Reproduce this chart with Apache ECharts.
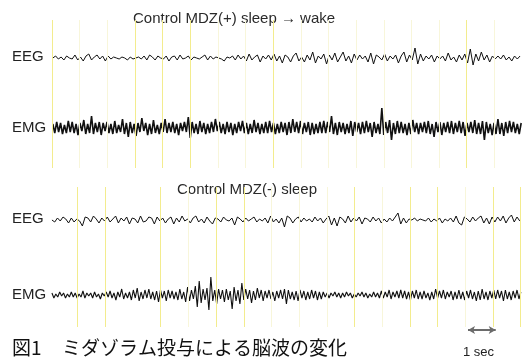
<!DOCTYPE html>
<html>
<head>
<meta charset="utf-8">
<script src="https://cdn.jsdelivr.net/npm/echarts@6/dist/echarts.min.js"></script>
<style>
  html, body { margin: 0; padding: 0; background: #fff; }
  #chart { width: 522px; height: 361px; }
</style>
</head>
<body>
<div id="chart"></div>
<script>
// trace labels and panel titles
const panelTitles = ['Control MDZ(+) sleep \u2192 wake', 'Control MDZ(-) sleep'];
const traceLabels = ['EEG', 'EMG'];
const caption = ['図1', 'ミダゾラム投与による脳波の変化'];
const scaleLabel = '1 sec';

// one-second markers (s)
const topSeconds = [0, 1, 2, 3, 4, 5, 6, 7, 8, 9, 10, 11, 12, 13, 14, 15, 16];
const bottomSeconds = [1, 2, 4, 5, 6, 7, 8, 9, 10, 11, 12, 13, 14, 15, 16, 17];
const topStrong = [0, 3, 4, 5, 8, 15];
const bottomStrong = [1, 2, 4, 6, 7, 11, 13, 14, 16, 17];

// sampled traces (arbitrary units), EEG every 0.1 s, EMG every 0.07 s
const eegStep = 0.1, emgStep = 0.07;

const topEEG = [
  0, 2, -1, 1, -2, 2, 0, -1, 3, -2,
  1, -3, 2, 4, -2, 1, 3, -1, 2, -3,
  2, -1, 1, 0, -1, 1, 0, -2, 1, -1,
  0, 1, -1, 2, -2, 3, 1, -2, 2, 0,
  -1, 2, -3, 1, 2, -2, 3, -1, 0, 2,
  -2, 1, 0, -1, 1, 3, -2, 2, -1, 1,
  0, -1, -3, 1, 0, 2, -2, 3, -1, 2,
  -3, 4, -2, 1, 3, -4, 2, -1, 3, -2,
  4, -3, 2, -5, 3, 1, -4, 2, 5, -3,
  1, -4, 3, -2, 6, -5, 2, -1, 4, -6,
  3, -2, 5, -4, 1, 6, -3, 2, -5, 4,
  -2, 3, -1, 2, -4, 5, -6, 3, 1, -2,
  4, -3, 2, -1, 3, -5, 2, 6, -4, 3,
  -2, 10, -6, 4, -3, 2, -1, 3, -4, 2,
  -1, 2, -3, 5, -2, 1, -4, 3, -2, 4,
  -5, 9, -7, 4, -3, 6, -2, 3, -4, 2,
  -1, 2, -1, 3, -2, 1, -3, 2, -1, 2
];

const topEMG = [
  4, -5, 6, -4, 5, -6, 3, -5, 7, -4,
  6, -5, 4, -7, 5, -3, 8, -6, 4, -5,
  12, -6, 5, -4, 6, -7, 5, -3, 6, -5,
  4, -6, 7, -5, 3, -4, 9, -6, 5, -9,
  6, -5, 4, -8, 5, -4, 10, -3, 5, -7,
  4, -6, 8, -5, 3, -6, 5, -4, 9, -5,
  5, -4, 6, -5, 4, -7, 5, -3, 6, -4,
  11, -10, 6, -5, 4, -6, 7, -4, 5, -6,
  4, -5, 6, -4, 9, -3, 6, -5, 4, -6,
  6, -4, 5, -7, 4, -5, 6, -3, 7, -5,
  5, -6, 4, -5, 8, -4, 5, -6, 4, -5,
  6, -5, 7, -4, 5, -6, 4, -5, 6, -4,
  5, -7, 6, -5, 9, -4, 6, -5, 7, -6,
  5, -4, 6, -7, 5, -6, 4, -5, 6, -5,
  7, -5, 6, -4, 12, -6, 5, -7, 6, -4,
  5, -6, 4, -5, 7, -8, 6, -4, 5, -6,
  6, -5, 7, -4, 5, -9, 6, -5, 4, -6,
  20, -7, 6, -5, 8, -12, 5, -6, 7, -5,
  6, -5, 4, -7, 5, -6, 8, -4, 5, -6,
  5, -4, 6, -5, 7, -6, 4, -9, 6, -4,
  6, -7, 5, -4, 6, -5, 7, -6, 5, -4,
  7, -5, 6, -8, 5, -4, 6, -5, 8, -6,
  5, -6, 7, -12, 6, -5, 4, -7, 5, -6,
  9, -6, 5, -8, 6, -5, 7, -4, 6, -5,
  4, -6, 5
];

const bottomEEG = [
  0, -2, 2, -1, 3, 1, -3, 2, -2, 1,
  -1, -6, 3, 2, -2, 4, 1, -3, 2, -1,
  3, -2, 1, 4, -3, 2, -1, 3, -4, 2,
  1, -3, 4, -2, -1, 3, 2, -4, 3, -1,
  2, -3, 1, 3, -4, 2, -2, 4, -1, 1,
  -3, 2, 4, -2, 1, -3, 3, -1, -4, 2,
  1, -2, 3, 0, -1, 2, -5, 3, 1, -2,
  2, -1, 1, 3, -2, 1, -1, 2, -3, 4,
  -2, 1, -3, 2, -7, 4, 2, -3, 1, 3,
  -2, 2, -1, 1, -2, 3, -1, 2, -3, 1,
  4, -5, 2, -6, 3, 1, -3, 4, -2, 2,
  -1, 3, -4, 2, 1, -2, 3, -1, 2, -3,
  1, -2, 2, -1, 3, 7, -4, 2, -3, 1,
  0, 2, -1, 1, 0, -1, 2, -2, 1, -1,
  2, -3, 1, -1, 2, -2, 4, -3, -5, 3,
  1, -2, 3, -1, 2, 4, -3, 2, -4, 3,
  -2, 3, -1, 4, -3, 2, 5, -2, 3, -1
];

const bottomEMG = [
  2, -3, 1, -2, 3, -1, 2, -3, 1, -2,
  3, -2, 2, -3, 1, -2, 4, -3, 2, -1,
  2, -3, 3, -2, 1, -4, 2, -1, 3, -2,
  4, -3, 2, -5, 3, -2, 6, -4, 2, -3,
  3, -5, 5, -3, 7, -6, 3, -4, 5, -3,
  6, -4, 3, -5, 4, -7, 5, -3, 4, -6,
  5, -3, 4, -4, 3, -5, 6, -4, 3, -7,
  8, -6, 5, -4, 9, -12, 14, -8, 6, -5,
  7, -15, 18, -6, 5, -9, 6, -4, 5, -7,
  6, -5, 4, -14, 8, -6, 5, -9, 12, -5,
  6, -4, 5, -8, 4, -5, 7, -3, 5, -6,
  4, -3, 5, -4, 3, -6, 4, -3, 5, -4,
  6, -9, 5, -4, 3, -5, 4, -6, 5, -3,
  4, -5, 3, -4, 5, -3, 4, -5, 3, -4,
  3, -2, 2, -3, 2, -1, 3, -2, 2, -3,
  2, -2, 3, -1, 2, -3, 1, -2, 2, -1,
  3, -2, 2, -3, 1, -2, 3, -2, 2, -3,
  4, -3, 3, -2, 5, -4, 3, -2, 4, -3,
  5, -3, 4, -4, 3, -5, 4, -3, 5, -4,
  3, -4, 4, -3, 2, -5, 3, -4, 6, -3,
  4, -3, 5, -4, 3, -2, 4, -5, 3, -4,
  5, -4, 3, -5, 4, -3, 5, -4, 3, -6,
  4, -5, 6, -4, 3, -5, 4, -3, 5, -4,
  5, -3, 4, -6, 5, -4, 3, -5, 4, -3,
  5, -4, 3
];

const chart = echarts.init(document.getElementById('chart'), null, { renderer: 'canvas' });

const FONT = '"Liberation Sans", Arial, sans-serif';
const STRONG = '#f3ec8e';
const FAINT = '#f8f6da';
const TRACE = '#111';

const toPairs = (arr, t0, step) => arr.map((v, i) => [t0 + i * step, v]);

const topPanel = { left: 52, width: 471, max: 17 };
const botPanel = { left: 50, width: 472, max: 17.05 };

const grids = [
  { left: topPanel.left, width: topPanel.width, top: 20, height: 148 },   // 0 top panel
  { left: topPanel.left, width: topPanel.width, top: 38, height: 40 },    // 1 top EEG
  { left: topPanel.left, width: topPanel.width, top: 108, height: 40 },   // 2 top EMG
  { left: botPanel.left, width: botPanel.width, top: 187, height: 140 },  // 3 bottom panel
  { left: botPanel.left, width: botPanel.width, top: 200, height: 40 },   // 4 bottom EEG
  { left: botPanel.left, width: botPanel.width, top: 275, height: 40 },   // 5 bottom EMG
  { left: botPanel.left, width: botPanel.width, top: 325, height: 10 }    // 6 scale bar
];

const isPanel = i => i === 0 || i === 3 || i === 6;

const xAxes = grids.map((g, i) => ({
  type: 'value', gridIndex: i, show: false, min: 0,
  max: i < 3 ? topPanel.max : botPanel.max
}));
const yAxes = grids.map((g, i) => ({
  type: 'value', gridIndex: i, show: false,
  min: isPanel(i) ? 0 : -20,
  max: isPanel(i) ? 1 : 20
}));

function markerSeries(gridIdx, seconds, strong) {
  return {
    type: 'line', xAxisIndex: gridIdx, yAxisIndex: gridIdx,
    data: [[seconds[0], 0.5]], symbol: 'none', lineStyle: { opacity: 0 },
    silent: true, z: 1,
    markLine: {
      silent: true, symbol: 'none', label: { show: false }, animation: false,
      data: seconds.map(s => ({
        xAxis: s,
        lineStyle: { color: strong.includes(s) ? STRONG : FAINT, width: 1, type: 'solid' }
      }))
    }
  };
}

function traceSeries(gridIdx, arr, t0, step, width) {
  return {
    type: 'line', xAxisIndex: gridIdx, yAxisIndex: gridIdx,
    data: toPairs(arr, t0, step), symbol: 'none', z: 3,
    lineStyle: { color: TRACE, width: width }
  };
}

const option = {
  animation: false,
  backgroundColor: '#fff',
  grid: grids,
  xAxis: xAxes,
  yAxis: yAxes,
  series: [
    markerSeries(0, topSeconds, topStrong),
    markerSeries(3, bottomSeconds, bottomStrong),
    traceSeries(1, topEEG, 0.03, eegStep, 1),
    traceSeries(2, topEMG, 0.03, emgStep, 1.6),
    traceSeries(4, bottomEEG, 0.07, eegStep, 1),
    traceSeries(5, bottomEMG, 0.07, emgStep, 1.1),
    {
      type: 'line', xAxisIndex: 6, yAxisIndex: 6,
      data: [[15.1, 0.5]], symbol: 'none', lineStyle: { opacity: 0 }, silent: true,
      markLine: {
        silent: true, animation: false, label: { show: false },
        symbol: ['arrow', 'arrow'], symbolSize: [6, 7],
        lineStyle: { color: '#6b6b6b', width: 2, type: 'solid' },
        data: [[{ coord: [15.1, 0.5] }, { coord: [16.1, 0.5] }]]
      }
    }
  ],
  graphic: [
    { type: 'text', left: 133, top: 11, style: { text: panelTitles[0], font: '15px ' + FONT, fill: '#2a2a2a' } },
    { type: 'text', left: 177, top: 182, style: { text: panelTitles[1], font: '15px ' + FONT, fill: '#2a2a2a' } },
    { type: 'text', left: 12, top: 49, style: { text: traceLabels[0], font: '15px ' + FONT, fill: '#222' } },
    { type: 'text', left: 12, top: 120, style: { text: traceLabels[1], font: '15px ' + FONT, fill: '#222' } },
    { type: 'text', left: 12, top: 211, style: { text: traceLabels[0], font: '15px ' + FONT, fill: '#222' } },
    { type: 'text', left: 12, top: 287, style: { text: traceLabels[1], font: '15px ' + FONT, fill: '#222' } },
    { type: 'text', left: 12, top: 338, style: { text: caption[0], font: '19px "Noto Sans CJK JP", sans-serif', fill: '#111' } },
    { type: 'text', left: 62, top: 338, style: { text: caption[1], font: '19px "Noto Sans CJK JP", sans-serif', fill: '#111' } },
    { type: 'text', left: 463, top: 346, style: { text: scaleLabel, font: '13px ' + FONT, fill: '#222' } }
  ]
};

chart.setOption(option);
</script>
</body>
</html>
